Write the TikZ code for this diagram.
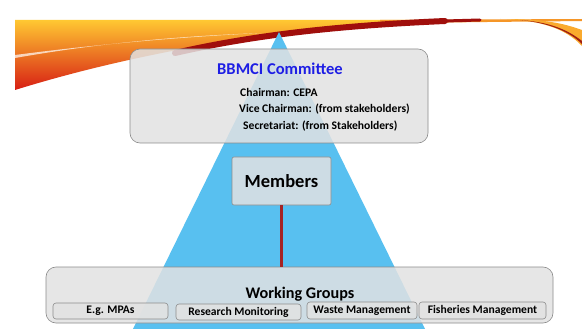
\documentclass[tikz,border=0pt]{standalone}
\usepackage{fontspec}
\setmainfont{Carlito}
\definecolor{tri}{RGB}{88,192,240}
\definecolor{ttl}{RGB}{30,30,228}
\definecolor{lnk}{RGB}{165,35,35}
\definecolor{boxfill}{RGB}{226,226,226}
\definecolor{swyel}{RGB}{255,200,50}
\definecolor{swora}{RGB}{245,110,25}
\definecolor{swred}{RGB}{215,30,20}
\definecolor{swline}{RGB}{245,150,40}
\definecolor{swdark}{RGB}{160,15,12}
\definecolor{swro1}{RGB}{250,170,45}
\definecolor{swro3}{RGB}{160,30,20}
\begin{document}
\begin{tikzpicture}[x=1pt,y=-1pt,
  box/.style={draw=black!45, fill=boxfill, fill opacity=0.85, text opacity=1, line width=0.6pt, inner sep=0pt},
  bigbox/.style={box, rounded corners=10pt},
  smallbox/.style={box, rounded corners=3pt, font=\bfseries\fontsize{11.6}{13}\selectfont},
  txt/.style={font=\bfseries\fontsize{11.6}{13}\selectfont, anchor=west, inner sep=0pt}]
\useasboundingbox (0,0) rectangle (582,329);
\fill[white] (0,0) rectangle (582,329);
% decorative swoosh
\shade[top color=swyel, middle color=swora, bottom color=swred]
  (15,20) -- (420,20) .. controls (300,27) and (150,48) .. (15,90) -- cycle;
\fill[white, opacity=0.7] (15,55) .. controls (100,44) and (180,37) .. (262,33) .. controls (180,36) and (100,43) .. (15,58) -- cycle;
\fill[swline] (380,20) -- (582,19) -- (582,21) .. controls (500,22) and (450,22) .. (380,24) -- cycle;
\draw[swdark, line width=6pt, line cap=round] (175,53) .. controls (250,36) and (330,26) .. (445,21);
\draw[swdark, line width=3pt, line cap=round] (445,21) -- (480,20);
\fill[swro1]
  (500,19) .. controls (540,20) and (565,28) .. (582,46) -- (582,30) .. controls (560,22) and (540,19) .. (500,19) -- cycle;
\fill[swro3] (520,20) .. controls (550,23) and (570,32) .. (582,44) -- (582,41) .. controls (568,30) and (550,22) .. (520,20) -- cycle;
% pyramid
\fill[tri] (279,32) -- (425,329) -- (133,329) -- cycle;
% committee
\node[bigbox, minimum width=298pt, minimum height=94pt] (com) at (279,96) {};
\node[font=\bfseries\fontsize{16.5}{18}\selectfont, text=ttl, inner sep=0pt] (title) at (280,69) {BBMCI Committee};
\node[txt] (chair) at (240,92) {Chairman: CEPA};
\node[txt] (vice) at (239,109) {Vice Chairman: (from stakeholders)};
\node[txt] (sec) at (243,126) {Secretariat: (from Stakeholders)};
% members
\node[box, rounded corners=2pt, minimum width=99pt, minimum height=48pt, font=\bfseries\fontsize{18.5}{20}\selectfont] (mem) at (281.5,181) {Members};
% working groups
\node[bigbox, minimum width=507pt, minimum height=56pt] (wg) at (299.5,295) {};
\node[font=\bfseries\fontsize{16.2}{18}\selectfont, inner sep=0pt] (wgt) at (300,294) {Working Groups};
\node[smallbox, minimum width=115pt, minimum height=16pt] (mpa) at (110.5,311) {E.g. MPAs};
\node[smallbox, minimum width=125pt, minimum height=16pt] (res) at (238.5,312) {Research Monitoring};
\node[smallbox, minimum width=110pt, minimum height=17pt] (was) at (362,310.5) {Waste Management};
\node[smallbox, minimum width=127pt, minimum height=17pt] (fis) at (482.5,310.5) {Fisheries Management};
% link
\draw[lnk, line width=2.6pt] (mem.south) -- (mem.south |- wg.north);
\end{tikzpicture}
\end{document}
